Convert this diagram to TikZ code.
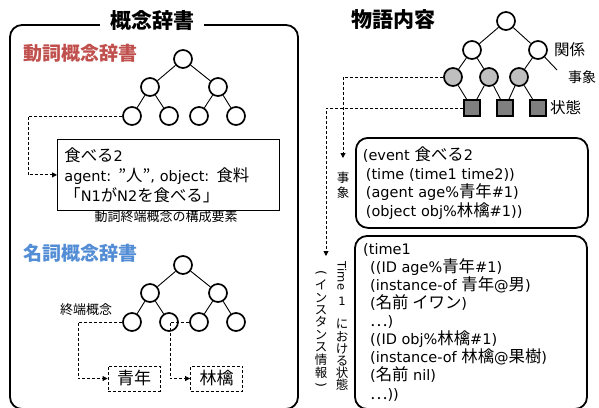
\documentclass[tikz,border=0pt]{standalone}
\usepackage{fontspec}
\setmainfont{DejaVu Sans}
\newfontfamily\jp{Noto Sans CJK JP}
\newfontfamily\jpb{Noto Sans CJK JP}[Scale=1.13]
\newcommand\jt[1]{{\jpb #1}}
\usetikzlibrary{arrows.meta}
\definecolor{vred}{RGB}{192,80,77}
\definecolor{nblue}{RGB}{83,141,213}
\definecolor{lgrey}{RGB}{191,191,191}
\definecolor{dgrey}{RGB}{127,127,127}
\begin{document}
\begin{tikzpicture}[x=1pt,y=-1pt,
  tn/.style={circle,draw,line width=1.7pt,minimum size=18pt,inner sep=0pt},
  gn/.style={tn,fill=lgrey},
  sq/.style={rectangle,draw,line width=1.6pt,fill=dgrey,minimum size=16pt,inner sep=0pt},
  edge/.style={line width=0.9pt},
  dl/.style={line width=0.9pt,dash pattern=on 3pt off 2pt},
  dla/.style={dl,-{Triangle[length=5pt,width=5pt]}},
  bigbox/.style={line width=1.8pt,rounded corners=12pt},
  title/.style={font=\jp\bfseries\fontsize{21}{21}\selectfont,inner sep=0pt},
  subtitle/.style={font=\jp\bfseries\fontsize{19}{19}\selectfont,inner sep=0pt},
  small/.style={font=\jp\fontsize{13}{13}\selectfont,inner sep=0pt},
  lab/.style={font=\jp\fontsize{15.5}{15.5}\selectfont,inner sep=0pt,anchor=west},
  vch/.style={font=\jp\fontsize{12.5}{12.5}\selectfont,inner sep=0pt},
  boxtext/.style={font=\fontsize{14.5}{18.5}\selectfont,align=left},
  dbox/.style={draw,dl,font=\jp\fontsize{17}{17}\selectfont,minimum width=52pt,minimum height=25pt,inner sep=0pt}
]
\useasboundingbox (0,0) rectangle (599,407);

% ---------------- left: concept dictionary ----------------
\draw[bigbox] (10,25) rectangle (298,409);
\node[title,fill=white,inner xsep=10pt,inner ysep=4pt] (ttl) at (152,21) {概念辞書};

\node[subtitle,text=vred] (vtitle) at (80,53) {動詞概念辞書};
\node[tn] (a0) at (183,59) {};
\node[tn] (a1) at (150,87) {};
\node[tn] (a2) at (218,87) {};
\node[tn] (a3) at (132,116) {};
\node[tn] (a4) at (169,116) {};
\node[tn] (a5) at (199,116) {};
\node[tn] (a6) at (236,116) {};
\draw[edge] (a0)--(a1) (a0)--(a2) (a1)--(a3) (a1)--(a4) (a2)--(a5) (a2)--(a6);

\node[draw,line width=0.8pt,anchor=north west,minimum width=222pt,minimum height=71pt,
      text width=208pt,inner xsep=7pt,font=\fontsize{14.5}{20}\selectfont,align=left] (vbox) at (57,139)
  {\jt{食べる}2\\agent: \jt{”人”}, object: \jt{食料}\\\jt{「}N1\jt{が}N2\jt{を食べる」}};
\node[small] (vcap) at (166,217) {動詞終端概念の構成要素};
\draw[dla] (a3.west) -- (28,116) |- (vbox.west);

\node[subtitle,text=nblue] (ntitle) at (80,253) {名詞概念辞書};
\node[tn] (b0) at (183,265) {};
\node[tn] (b1) at (150,293) {};
\node[tn] (b2) at (218,293) {};
\node[tn] (b3) at (132,322) {};
\node[tn] (b4) at (169,322) {};
\node[tn] (b5) at (199,322) {};
\node[tn] (b6) at (236,322) {};
\draw[edge] (b0)--(b1) (b0)--(b2) (b1)--(b3) (b1)--(b4) (b2)--(b5) (b2)--(b6);
\node[small] (term) at (86,310) {終端概念};
\node[dbox] (seinen) at (134,378.5) {青年};
\node[dbox] (ringo) at (216.5,378.5) {林檎};
\draw[dla] (b3.west) -- (78,322) |- (seinen.west);
\draw[dla] (b5.west) -- (170,322) |- (ringo.west);

% ---------------- right: story content ----------------
\node[title] (rtitle) at (393,20) {物語内容};
\node[tn] (r0) at (506,21) {};
\node[tn] (r1) at (472,50) {};
\node[tn] (r2) at (538,50) {};
\coordinate (rx) at (557,70);
\node[gn] (g1) at (453,77) {};
\node[gn] (g2) at (489,77) {};
\node[gn] (g3) at (519,77) {};
\node[sq] (s1) at (472,108) {};
\node[sq] (s2) at (505,108) {};
\node[sq] (s3) at (538,108) {};
\draw[edge] (r0)--(r1) (r0)--(r2) (r1)--(g1) (r1)--(g2) (r2)--(g3) (r2)--(rx)
  (g1)--(s1) (g2)--(s1) (g2)--(s2) (g3)--(s2) (g3)--(s3);
\node[lab] (lk) at (554,50) {関係};
\node[lab,font=\jp\fontsize{14}{14}\selectfont] (lj) at (568,77) {事象};
\node[lab] (ls) at (550,108) {状態};

\node[draw,bigbox,anchor=north west,minimum width=232pt,minimum height=90pt,
      text width=218pt,inner xsep=7pt,boxtext] (ebox) at (355,137)
  {(event \jt{食べる}2\\\hspace*{3pt}(time (time1 time2))\\\hspace*{3pt}(agent age\%\jt{青年}\#1)\\\hspace*{3pt}(object obj\%\jt{林檎}\#1))};

\draw[bigbox] (355,236) rectangle (587,409);
\node[boxtext,font=\fontsize{14.5}{18.1}\selectfont,anchor=north west,inner sep=0pt] (tbox) at (363,243)
  {(time1\\
   \hspace*{7pt}((ID age\%\jt{青年}\#1)\\
   \hspace*{7pt}(instance-of \jt{青年}@\jt{男})\\
   \hspace*{7pt}(\jt{名前 イワン})\\
   \hspace*{7pt}\jt{…})\\
   \hspace*{7pt}((ID obj\%\jt{林檎}\#1)\\
   \hspace*{7pt}(instance-of \jt{林檎}@\jt{果樹})\\
   \hspace*{7pt}(\jt{名前} nil)\\
   \hspace*{7pt}\jt{…}))};

\coordinate (evend) at (343,158);
\coordinate (stend) at (326,256);
\draw[dla] (g1.west) -| (evend);
\draw[dla] (s1.west) -| (stend);

\node[vch] (je1) at (343,178) {事};
\node[vch] (je2) at (343,193) {象};

\node[font=\fontsize{11.5}{11.5}\selectfont,inner sep=0pt,rotate=-90] (vtime) at (342,276) {Time};
\node[font=\fontsize{11.5}{11.5}\selectfont,inner sep=0pt] (vone) at (342,301) {1};
\foreach \c/\yy in {に/324,お/337,け/349,る/361,状/373,態/385}
  \node[vch] at (342,\yy) {\c};
\node[font=\fontsize{12.5}{12.5}\selectfont,inner sep=0pt,rotate=-90] (vp1) at (321,273) {(};
\foreach \c/\yy in {イ/285,ン/298,ス/310,タ/322,ン/335,ス/347,情/360,報/373}
  \node[vch] at (321,\yy) {\c};
\node[font=\fontsize{12.5}{12.5}\selectfont,inner sep=0pt,rotate=-90] (vp2) at (321,385) {)};
\end{tikzpicture}
\end{document}
